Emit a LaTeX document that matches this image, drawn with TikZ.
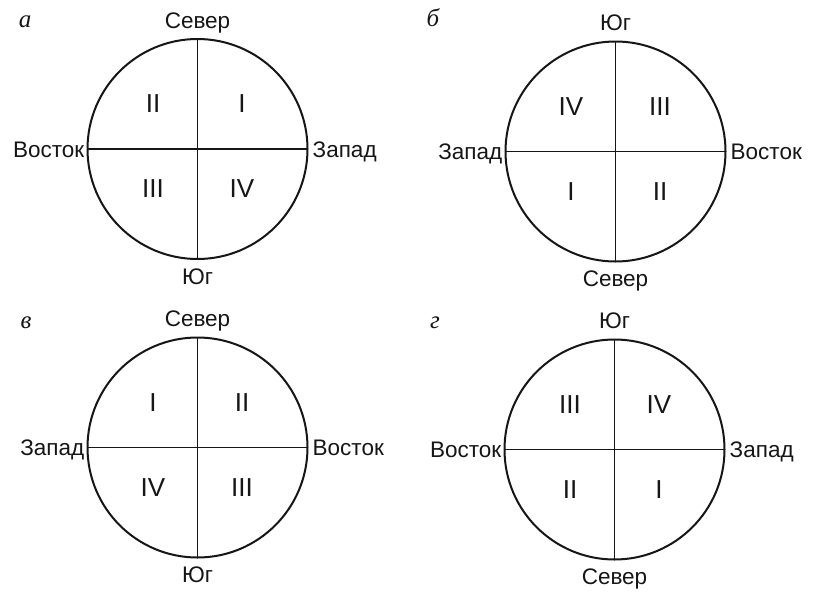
\documentclass[tikz,border=0pt]{standalone}
\usepackage{fontspec}
\setmainfont{Liberation Sans}
\newfontfamily\letterfont{Liberation Serif}
\usetikzlibrary{calc}
\definecolor{ink}{HTML}{161616}
\tikzset{
 rose/.style={circle, draw=ink, line width=2pt, minimum size=220pt, inner sep=0pt, outer sep=0pt},
 axisline/.style={draw=ink, line width=1.8pt},
 dirlabel/.style={font=\fontsize{22.5}{22.5}\selectfont, text=ink, inner sep=0pt},
 quad/.style={font=\fontsize{26}{26}\selectfont, text=ink, inner sep=0pt},
 figletter/.style={font=\letterfont\itshape\fontsize{25}{25}\selectfont, text=ink, inner sep=0pt, anchor=base},
}
% #1 name, #2 centre, #3 top, #4 bottom, #5 left, #6 right
\newcommand{\compassrose}[6]{%
 \node[rose] (#1) at (#2) {};
 \draw[axisline] (#1.north) -- (#1.south);
 \draw[axisline] (#1.west) -- (#1.east);
 \node[dirlabel, anchor=base] (#1-top) at ($(#1.north)+(0,-11)$) {#3};
 \node[dirlabel, anchor=base] (#1-bottom) at ($(#1.south)+(0,25)$) {#4};
 \node[dirlabel, anchor=base east] (#1-left) at ($(#1.west)+(-3,8)$) {#5};
 \node[dirlabel, anchor=base west] (#1-right) at ($(#1.east)+(5,8)$) {#6};
}
% #1 name, #2 TL, #3 TR, #4 BL, #5 BR
\newcommand{\quadrants}[5]{%
 \node[quad] (#1-tl) at ($(#1.center)+(-44.5,-45)$) {#2};
 \node[quad] (#1-tr) at ($(#1.center)+(44.5,-45)$) {#3};
 \node[quad] (#1-bl) at ($(#1.center)+(-44.5,40)$) {#4};
 \node[quad] (#1-br) at ($(#1.center)+(44.5,40)$) {#5};
}
\begin{document}
\begin{tikzpicture}[x=1pt,y=-1pt]
 \fill[white] (0,0) rectangle (816,592);
 \useasboundingbox (0,0) rectangle (816,592);

 \node[figletter] (la) at (25,27) {а};
 \compassrose{ra}{197.5,149}{Север}{Юг}{Восток}{Запад}
 \quadrants{ra}{II}{I}{III}{IV}

 \node[figletter] (lb) at (433,26) {б};
 \compassrose{rb}{615.5,151.5}{Юг}{Север}{Запад}{Восток}
 \quadrants{rb}{IV}{III}{I}{II}

 \node[figletter] (lv) at (26,328) {в};
 \compassrose{rv}{197.5,447.5}{Север}{Юг}{Запад}{Восток}
 \quadrants{rv}{I}{II}{IV}{III}

 \node[figletter] (lg) at (435,328) {г};
 \compassrose{rg}{614.5,449.5}{Юг}{Север}{Восток}{Запад}
 \quadrants{rg}{III}{IV}{II}{I}
\end{tikzpicture}
\end{document}
